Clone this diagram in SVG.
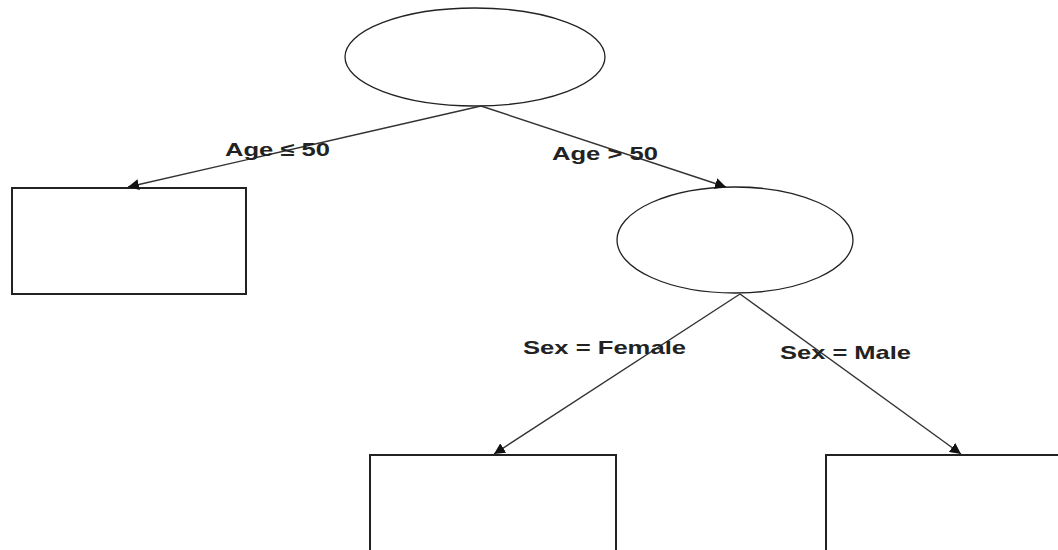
<svg xmlns="http://www.w3.org/2000/svg" width="1058" height="550" viewBox="0 0 1058 550">
<style>
.node{fill:#fff;stroke:#222;stroke-width:1.3}
.box{fill:#fff;stroke:#222;stroke-width:2}
.edge{stroke:#333;stroke-width:1.4;fill:none}
.lbl{font-family:"Liberation Sans",Arial,sans-serif;font-weight:bold;font-size:19px;fill:#222}
</style>
<defs>
<marker id="arr" viewBox="0 0 10 10" refX="10" refY="5" markerWidth="11" markerHeight="11" markerUnits="userSpaceOnUse" orient="auto">
<path d="M0,0 L10,5 L0,10 z" fill="#111"/>
</marker>
</defs>
<rect width="1058" height="550" fill="#fff"/>
<g id="root"><ellipse class="node" cx="475" cy="57" rx="130" ry="49"/></g>
<g id="leaf-young"><rect class="box" x="12" y="188" width="234" height="106"/></g>
<g id="node-old"><ellipse class="node" cx="735" cy="240" rx="118" ry="53"/></g>
<g id="leaf-female"><rect class="box" x="370" y="455" width="246" height="100"/></g>
<g id="leaf-male"><rect class="box" x="826" y="455" width="240" height="100"/></g>
<g id="connectors">
<line class="edge" x1="481" y1="106" x2="128" y2="187" marker-end="url(#arr)"/>
<line class="edge" x1="481" y1="106" x2="726" y2="187" marker-end="url(#arr)"/>
<line class="edge" x1="740" y1="294" x2="494" y2="454" marker-end="url(#arr)"/>
<line class="edge" x1="740" y1="294" x2="961" y2="454" marker-end="url(#arr)"/>
</g>
<g id="labels">
<text class="lbl" x="225" y="156" textLength="105" lengthAdjust="spacingAndGlyphs">Age ≤ 50</text>
<text class="lbl" x="552" y="160" textLength="106" lengthAdjust="spacingAndGlyphs">Age &gt; 50</text>
<text class="lbl" x="523" y="354" textLength="163" lengthAdjust="spacingAndGlyphs">Sex = Female</text>
<text class="lbl" x="780" y="359" textLength="131" lengthAdjust="spacingAndGlyphs">Sex = Male</text>
</g>
</svg>
